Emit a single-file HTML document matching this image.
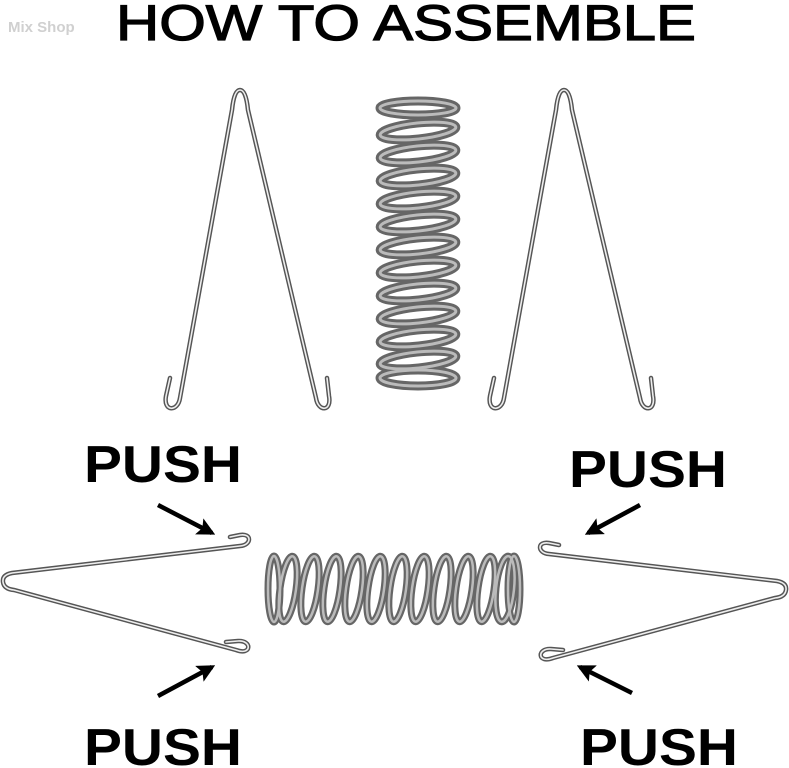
<!DOCTYPE html>
<html><head><style>
html,body{margin:0;padding:0;background:#fff;width:789px;height:768px;overflow:hidden}
svg{display:block}
text{font-family:"Liberation Sans",sans-serif;font-weight:bold}
</style></head><body>
<svg width="789" height="768" viewBox="0 0 789 768">
<text x="8" y="32" font-size="15" fill="#d0d0d0" font-weight="normal">Mix Shop</text>
<text x="116" y="40" font-size="50" fill="#000" textLength="580" lengthAdjust="spacingAndGlyphs" style="font-weight:normal;stroke:#000;stroke-width:1.2">HOW  TO ASSEMBLE</text>
<text x="84" y="482" font-size="52" fill="#000" textLength="158" lengthAdjust="spacingAndGlyphs">PUSH</text>
<text x="569" y="487" font-size="52" fill="#000" textLength="158" lengthAdjust="spacingAndGlyphs">PUSH</text>
<text x="84" y="765" font-size="52" fill="#000" textLength="158" lengthAdjust="spacingAndGlyphs">PUSH</text>
<text x="580" y="765" font-size="52" fill="#000" textLength="158" lengthAdjust="spacingAndGlyphs">PUSH</text>

<defs>
<g id="wire">
<path d="M180,398 C178,412 163,412 166,396 L170,378 M180,398 L232,110 Q234,90 240,90 Q246,90 248,110 L316,398 C318,412 332,412 329,396 L327,378" fill="none"/>
</g>
<g id="hwire">
<path d="M240,546 C252,545 252,533 240,535 L230,537 M240,546 L12,573 Q2,575 3,582 Q4,589 14,590 L236,650 C252,656 252,640 238,641 L226,642" fill="none"/>
</g>
</defs>
<g stroke="#555" stroke-width="4.5" stroke-linecap="round"><use href="#wire"/></g>
<g stroke="#eee" stroke-width="1.6" stroke-linecap="round"><use href="#wire"/></g>
<g transform="translate(324,0)"><g stroke="#555" stroke-width="4.5" stroke-linecap="round"><use href="#wire"/></g>
<g stroke="#eee" stroke-width="1.6" stroke-linecap="round"><use href="#wire"/></g></g>
<g stroke="#555" stroke-width="4.5" stroke-linecap="round"><use href="#hwire"/></g>
<g stroke="#eee" stroke-width="1.6" stroke-linecap="round"><use href="#hwire"/></g>
<g transform="translate(789,8) scale(-1,1)"><g stroke="#555" stroke-width="4.5" stroke-linecap="round"><use href="#hwire"/></g>
<g stroke="#eee" stroke-width="1.6" stroke-linecap="round"><use href="#hwire"/></g></g>

<!-- vertical spring -->
<g fill="none">
<g stroke="#666" stroke-width="9">
<ellipse cx="418" cy="108" rx="38" ry="7"/><ellipse cx="418" cy="131" rx="38" ry="8" transform="rotate(-6 418 131)"/><ellipse cx="418" cy="154" rx="38" ry="8" transform="rotate(-6 418 154)"/><ellipse cx="418" cy="177" rx="38" ry="8" transform="rotate(-6 418 177)"/><ellipse cx="418" cy="200" rx="38" ry="8" transform="rotate(-6 418 200)"/><ellipse cx="418" cy="223" rx="38" ry="8" transform="rotate(-6 418 223)"/><ellipse cx="418" cy="246" rx="38" ry="8" transform="rotate(-6 418 246)"/><ellipse cx="418" cy="269" rx="38" ry="8" transform="rotate(-6 418 269)"/><ellipse cx="418" cy="292" rx="38" ry="8" transform="rotate(-6 418 292)"/><ellipse cx="418" cy="315" rx="38" ry="8" transform="rotate(-6 418 315)"/><ellipse cx="418" cy="338" rx="38" ry="8" transform="rotate(-6 418 338)"/><ellipse cx="418" cy="360" rx="38" ry="8" transform="rotate(-6 418 360)"/><ellipse cx="418" cy="378" rx="38" ry="8"/>
</g>
<g stroke="#bbb" stroke-width="3">
<ellipse cx="418" cy="108" rx="38" ry="7"/><ellipse cx="418" cy="131" rx="38" ry="8" transform="rotate(-6 418 131)"/><ellipse cx="418" cy="154" rx="38" ry="8" transform="rotate(-6 418 154)"/><ellipse cx="418" cy="177" rx="38" ry="8" transform="rotate(-6 418 177)"/><ellipse cx="418" cy="200" rx="38" ry="8" transform="rotate(-6 418 200)"/><ellipse cx="418" cy="223" rx="38" ry="8" transform="rotate(-6 418 223)"/><ellipse cx="418" cy="246" rx="38" ry="8" transform="rotate(-6 418 246)"/><ellipse cx="418" cy="269" rx="38" ry="8" transform="rotate(-6 418 269)"/><ellipse cx="418" cy="292" rx="38" ry="8" transform="rotate(-6 418 292)"/><ellipse cx="418" cy="315" rx="38" ry="8" transform="rotate(-6 418 315)"/><ellipse cx="418" cy="338" rx="38" ry="8" transform="rotate(-6 418 338)"/><ellipse cx="418" cy="360" rx="38" ry="8" transform="rotate(-6 418 360)"/><ellipse cx="418" cy="378" rx="38" ry="8"/>
</g>
</g>

<!-- horizontal spring -->
<g fill="none">
<g stroke="#666" stroke-width="7">
<ellipse cx="274" cy="589" rx="6" ry="33"/><ellipse cx="288" cy="589" rx="8" ry="33" transform="rotate(8 288 589)"/><ellipse cx="310" cy="589" rx="8" ry="33" transform="rotate(8 310 589)"/><ellipse cx="332" cy="589" rx="8" ry="33" transform="rotate(8 332 589)"/><ellipse cx="354" cy="589" rx="8" ry="33" transform="rotate(8 354 589)"/><ellipse cx="376" cy="589" rx="8" ry="33" transform="rotate(8 376 589)"/><ellipse cx="398" cy="589" rx="8" ry="33" transform="rotate(8 398 589)"/><ellipse cx="420" cy="589" rx="8" ry="33" transform="rotate(8 420 589)"/><ellipse cx="442" cy="589" rx="8" ry="33" transform="rotate(8 442 589)"/><ellipse cx="464" cy="589" rx="8" ry="33" transform="rotate(8 464 589)"/><ellipse cx="486" cy="589" rx="8" ry="33" transform="rotate(8 486 589)"/><ellipse cx="505" cy="589" rx="9" ry="33" transform="rotate(6 505 589)"/><ellipse cx="514" cy="589" rx="6" ry="33"/>
</g>
<g stroke="#bbb" stroke-width="2.5">
<ellipse cx="274" cy="589" rx="6" ry="33"/><ellipse cx="288" cy="589" rx="8" ry="33" transform="rotate(8 288 589)"/><ellipse cx="310" cy="589" rx="8" ry="33" transform="rotate(8 310 589)"/><ellipse cx="332" cy="589" rx="8" ry="33" transform="rotate(8 332 589)"/><ellipse cx="354" cy="589" rx="8" ry="33" transform="rotate(8 354 589)"/><ellipse cx="376" cy="589" rx="8" ry="33" transform="rotate(8 376 589)"/><ellipse cx="398" cy="589" rx="8" ry="33" transform="rotate(8 398 589)"/><ellipse cx="420" cy="589" rx="8" ry="33" transform="rotate(8 420 589)"/><ellipse cx="442" cy="589" rx="8" ry="33" transform="rotate(8 442 589)"/><ellipse cx="464" cy="589" rx="8" ry="33" transform="rotate(8 464 589)"/><ellipse cx="486" cy="589" rx="8" ry="33" transform="rotate(8 486 589)"/><ellipse cx="505" cy="589" rx="9" ry="33" transform="rotate(6 505 589)"/><ellipse cx="514" cy="589" rx="6" ry="33"/>
</g>
</g>

<!-- arrows -->
<defs><marker id="ah" viewBox="0 0 10 10" refX="8" refY="5" markerWidth="4" markerHeight="4" orient="auto"><path d="M0,0 L10,5 L0,10 L2,5 z" fill="#000"/></marker></defs>
<g stroke="#000" stroke-width="4.5" marker-end="url(#ah)">
<line x1="158" y1="505" x2="212" y2="533"/>
<line x1="158" y1="696" x2="212" y2="667"/>
<line x1="640" y1="505" x2="588" y2="533"/>
<line x1="632" y1="693" x2="580" y2="667"/>
</g>
</svg>
</body></html>
